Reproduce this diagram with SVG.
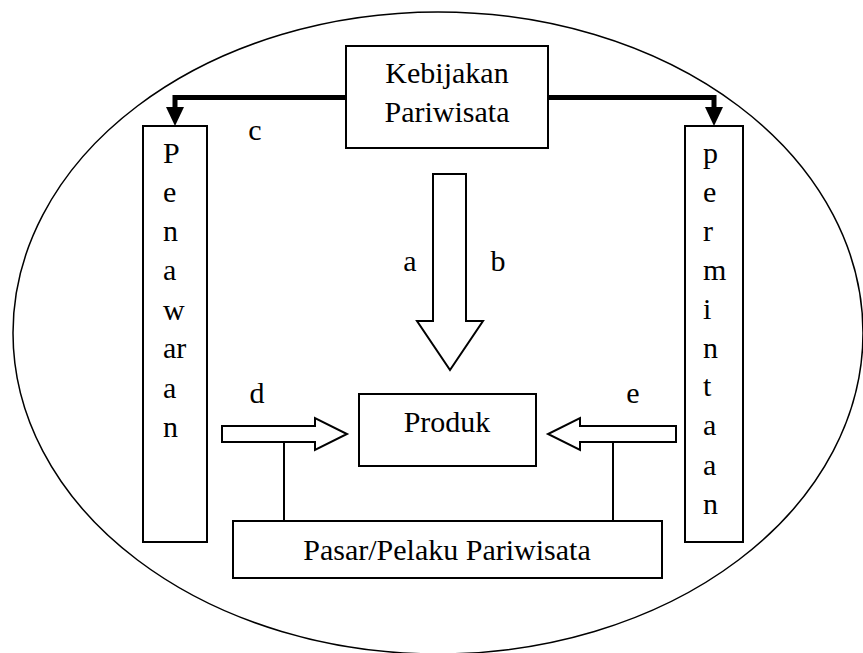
<svg xmlns="http://www.w3.org/2000/svg" width="863" height="653" viewBox="0 0 863 653">
<style>
.box{fill:#fff;stroke:#000;stroke-width:2}
.t{font-family:'Liberation Serif','Times New Roman',Times,serif;font-size:30px;fill:#000}
.c{text-anchor:middle}
.thick{fill:none;stroke:#000;stroke-width:5}
.ln{fill:none;stroke:#000;stroke-width:2}
.arr{fill:#fff;stroke:#000;stroke-width:2;stroke-linejoin:miter}
</style>
<rect width="863" height="653" fill="#fff"/>
<ellipse id="boundary" cx="438" cy="333" rx="425" ry="321" fill="none" stroke="#000" stroke-width="1.5"/>
<g id="connectors">
  <polyline class="thick" points="346,97.5 175,97.5 175,110"/>
  <polygon points="166,107 184,107 175,126" fill="#000"/>
  <polyline class="thick" points="548,97.5 714,97.5 714,110"/>
  <polygon points="705,107 723,107 714,126" fill="#000"/>
  <polygon class="arr" points="433,174 466,174 466,321 483,321 450,370 417,321 433,321"/>
  <polygon class="arr" points="222,426 315,426 315,418 347,434 315,450 315,442 222,442"/>
  <polygon class="arr" points="676,426 580,426 580,418 548,434 580,450 580,442 676,442"/>
  <line class="ln" x1="284" y1="442" x2="284" y2="521"/>
  <line class="ln" x1="613" y1="442" x2="613" y2="521"/>
</g>
<g id="kebijakan">
  <rect class="box" x="346" y="46" width="202" height="102"/>
  <text class="t c" x="447" y="83">Kebijakan</text>
  <text class="t c" x="447" y="122">Pariwisata</text>
</g>
<g id="penawaran">
  <rect class="box" x="143" y="126" width="64" height="416"/>
  <text class="t" x="163" y="163">P</text>
  <text class="t" x="163" y="202">e</text>
  <text class="t" x="163" y="241">n</text>
  <text class="t" x="163" y="280">a</text>
  <text class="t" x="163" y="320">w</text>
  <text class="t" x="163" y="358">ar</text>
  <text class="t" x="163" y="398">a</text>
  <text class="t" x="163" y="437">n</text>
</g>
<g id="permintaan">
  <rect class="box" x="685" y="126" width="58" height="416"/>
  <text class="t" x="703" y="163">p</text>
  <text class="t" x="703" y="202">e</text>
  <text class="t" x="703" y="241">r</text>
  <text class="t" x="703" y="280">m</text>
  <text class="t" x="703" y="319">i</text>
  <text class="t" x="703" y="358">n</text>
  <text class="t" x="703" y="396">t</text>
  <text class="t" x="703" y="435">a</text>
  <text class="t" x="703" y="475">a</text>
  <text class="t" x="703" y="514">n</text>
</g>
<g id="produk">
  <rect class="box" x="359" y="394" width="177" height="72"/>
  <text class="t c" x="447" y="432">Produk</text>
</g>
<g id="pasar">
  <rect class="box" x="233" y="521" width="429" height="57"/>
  <text class="t c" x="447" y="560">Pasar/Pelaku Pariwisata</text>
</g>
<g id="labels">
  <text class="t c" x="255" y="140">c</text>
  <text class="t c" x="410" y="271">a</text>
  <text class="t c" x="498" y="271">b</text>
  <text class="t c" x="257" y="403">d</text>
  <text class="t c" x="633" y="403">e</text>
</g>
</svg>
